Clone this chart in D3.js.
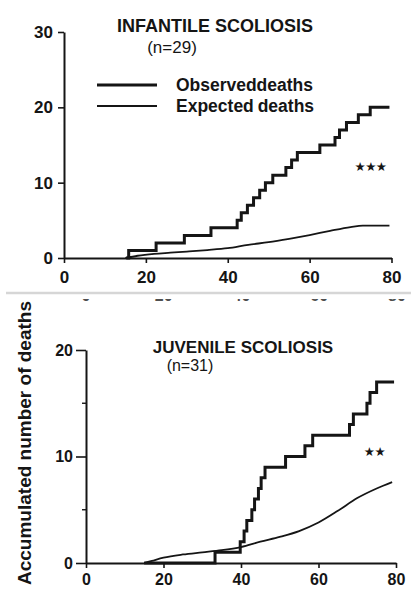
<!DOCTYPE html>
<html>
<head>
<meta charset="utf-8">
<script src="https://cdn.jsdelivr.net/npm/d3@7/dist/d3.min.js"></script>
<style>
  html, body { margin: 0; padding: 0; background: #fff; }
  svg { display: block; }
  text { font-family: "Liberation Sans", Arial, Helvetica, sans-serif; fill: #151515; }
</style>
</head>
<body>
<svg id="chart" width="411" height="605"></svg>
<script>
// Age ticks shared by both panels
const ageTicks = [0, 20, 40, 60, 80];

// Infantile scoliosis (n=29): cumulative observed deaths (step events) and expected deaths
const infantileObsAge    = [15.2, 15.8, 22.5, 29.4, 35.9, 42.3, 43.3, 44.8, 46.3, 47.8, 49.2, 51.0, 54.2, 55.6, 57.0, 62.5, 66.2, 67.3, 69.0, 71.9, 74.8, 79.5];
const infantileObsDeaths = [0,    1,    2,    3,    4,    5,    6,    7,    8,    9,    10,   11,   12,   13,   14,   15,   16,   17,   18,   19,   20,   20];
const infantileExpAge    = [15, 18, 22, 26, 30, 35, 40, 45, 50, 55, 60, 65, 70, 73, 79.5];
const infantileExpDeaths = [0, 0.3, 0.55, 0.7, 0.85, 1.05, 1.3, 1.75, 2.1, 2.55, 3.05, 3.6, 4.1, 4.3, 4.3];
const infantileYTicks = [0, 10, 20, 30];

// Juvenile scoliosis (n=31)
const juvenileObsAge    = [15.0, 33.3, 39.8, 40.8, 41.5, 42.8, 43.5, 44.5, 45.2, 46.2, 51.5, 56.5, 58.5, 68.0, 69.0, 72.5, 73.3, 75.0, 79.5];
const juvenileObsDeaths = [0,    1,    2,    3,    4,    5,    6,    7,    8,    9,    10,   11,   12,   13,   14,   15,   16,   17,   17];
const juvenileExpAge    = [15, 17, 20, 25, 30, 35, 40, 45, 50, 55, 60, 65, 70, 75, 79];
const juvenileExpDeaths = [0, 0.2, 0.5, 0.8, 1.0, 1.2, 1.5, 2.0, 2.45, 3.0, 3.8, 4.9, 6.1, 7.0, 7.6];
const juvenileYTicks = [0, 10, 20];
const juvenileYMinor = [5, 15];

const svg = d3.select("#chart");
const ink = "#151515";

function drawPanel(opt) {
  const x = d3.scaleLinear().domain([0, 80]).range(opt.xRange);
  const y = d3.scaleLinear().domain([0, opt.yMax]).range(opt.yRange);
  const g = svg.append("g");

  // y axis
  const ya = g.append("g").attr("transform", `translate(${opt.xRange[0]},0)`)
    .call(d3.axisLeft(y).tickValues(opt.yTicks).tickSize(opt.yTickSize).tickSizeOuter(0).tickPadding(opt.yPad));
  ya.select(".domain").attr("stroke", ink).attr("stroke-width", 2);
  ya.selectAll(".tick line").attr("stroke", ink).attr("stroke-width", 1.6);
  ya.selectAll(".tick text").style("font-size", opt.tickFont + "px").style("font-weight", "bold").attr("fill", ink);
  ya.attr("font-family", null);

  if (opt.yMinor) {
    g.append("g").selectAll("line").data(opt.yMinor).join("line")
      .attr("x1", opt.xRange[0] - 4).attr("x2", opt.xRange[0])
      .attr("y1", d => y(d)).attr("y2", d => y(d))
      .attr("stroke", ink).attr("stroke-width", 1.4);
  }

  // x axis
  const xa = g.append("g").attr("transform", `translate(0,${opt.yRange[0]})`)
    .call(d3.axisBottom(x).tickValues(ageTicks).tickSize(5).tickSizeOuter(0).tickPadding(opt.xPad));
  xa.select(".domain").attr("stroke", ink).attr("stroke-width", 2);
  xa.selectAll(".tick line").attr("stroke", ink).attr("stroke-width", 1.6);
  xa.selectAll(".tick text").style("font-size", opt.tickFont + "px").style("font-weight", "bold").attr("fill", ink);
  xa.attr("font-family", null);

  // expected deaths
  g.append("path")
    .datum(opt.expAge.map((a, i) => [a, opt.expVal[i]]))
    .attr("fill", "none").attr("stroke", ink).attr("stroke-width", 1.8)
    .attr("d", d3.line().x(d => x(d[0])).y(d => y(d[1])).curve(d3.curveMonotoneX));

  // observed deaths
  g.append("path")
    .datum(opt.obsAge.map((a, i) => [a, opt.obsVal[i]]))
    .attr("fill", "none").attr("stroke", ink).attr("stroke-width", 3)
    .attr("stroke-linejoin", "miter")
    .attr("d", d3.line().x(d => x(d[0])).y(d => y(d[1])).curve(d3.curveStepAfter));

  // titles
  g.append("text").attr("x", opt.title.x).attr("y", opt.title.y)
    .attr("text-anchor", "middle").style("font-weight", "bold")
    .style("font-size", opt.title.size + "px").text(opt.title.text);
  g.append("text").attr("x", opt.n.x).attr("y", opt.n.y)
    .attr("text-anchor", "middle")
    .style("font-size", opt.n.size + "px").text(opt.n.text);

  // significance stars
  g.append("text").attr("x", opt.stars.x).attr("y", opt.stars.y)
    .attr("text-anchor", "middle")
    .style("font-family", "DejaVu Sans").style("font-size", "12.5px")
    .style("letter-spacing", "-0.5px")
    .text(opt.stars.text);
  return { x, y, g };
}

drawPanel({
  xRange: [64, 391.5], yRange: [258, 32], yMax: 30,
  yTicks: infantileYTicks, yTickSize: 6, yPad: 5, xPad: 8, tickFont: 17,
  obsAge: infantileObsAge, obsVal: infantileObsDeaths,
  expAge: infantileExpAge, expVal: infantileExpDeaths,
  title: { text: "INFANTILE SCOLIOSIS", x: 215, y: 32, size: 18 },
  n: { text: "(n=29)", x: 172, y: 53, size: 17 },
  stars: { text: "★★★", x: 370.5, y: 170.5 }
});

drawPanel({
  xRange: [86, 396], yRange: [563, 350], yMax: 20,
  yTicks: juvenileYTicks, yMinor: juvenileYMinor, yTickSize: 10, yPad: 3, xPad: 6, tickFont: 16,
  obsAge: juvenileObsAge, obsVal: juvenileObsDeaths,
  expAge: juvenileExpAge, expVal: juvenileExpDeaths,
  title: { text: "JUVENILE SCOLIOSIS", x: 243, y: 353, size: 17 },
  n: { text: "(n=31)", x: 190, y: 371, size: 16 },
  stars: { text: "★★", x: 374.5, y: 455.5 }
});

// legend
const legend = svg.append("g");
const legendItems = [
  { label: "Observed deaths", y: 85, w: 3 },
  { label: "Expected deaths", y: 106, w: 2 }
];
legend.selectAll("line").data(legendItems).join("line")
  .attr("x1", 97).attr("x2", 157).attr("y1", d => d.y).attr("y2", d => d.y)
  .attr("stroke", ink).attr("stroke-width", d => d.w);
legend.selectAll("text").data(legendItems).join("text")
  .attr("x", 176).attr("y", d => d.y + 6)
  .style("font-weight", "bold").style("font-size", "17.5px")
  .style("word-spacing", (d, i) => i === 0 ? "-5px" : "-1px")
  .text(d => d.label);

// divider between the two panels, with the clipped label row beneath it
svg.append("line").attr("x1", 6).attr("x2", 411).attr("y1", 293).attr("y2", 293)
  .attr("stroke", "#d6d6d6").attr("stroke-width", 2.5);
svg.append("clipPath").attr("id", "strip")
  .append("rect").attr("x", 0).attr("y", 299.2).attr("width", 411).attr("height", 1.6);
const xStrip = d3.scaleLinear().domain([0, 80]).range([86, 397]);
svg.append("g").attr("clip-path", "url(#strip)")
  .selectAll("text").data(ageTicks).join("text")
  .attr("x", d => xStrip(d)).attr("y", 301)
  .attr("text-anchor", "middle").style("font-weight", "bold").style("font-size", "16px")
  .attr("fill", "#8a8a8a").text(d => d);

// shared y-axis title
svg.append("text")
  .attr("transform", "translate(31,443) rotate(-90)")
  .attr("text-anchor", "middle")
  .style("font-weight", "bold").style("font-size", "19px")
  .text("Accumulated number of deaths");
</script>
</body>
</html>
